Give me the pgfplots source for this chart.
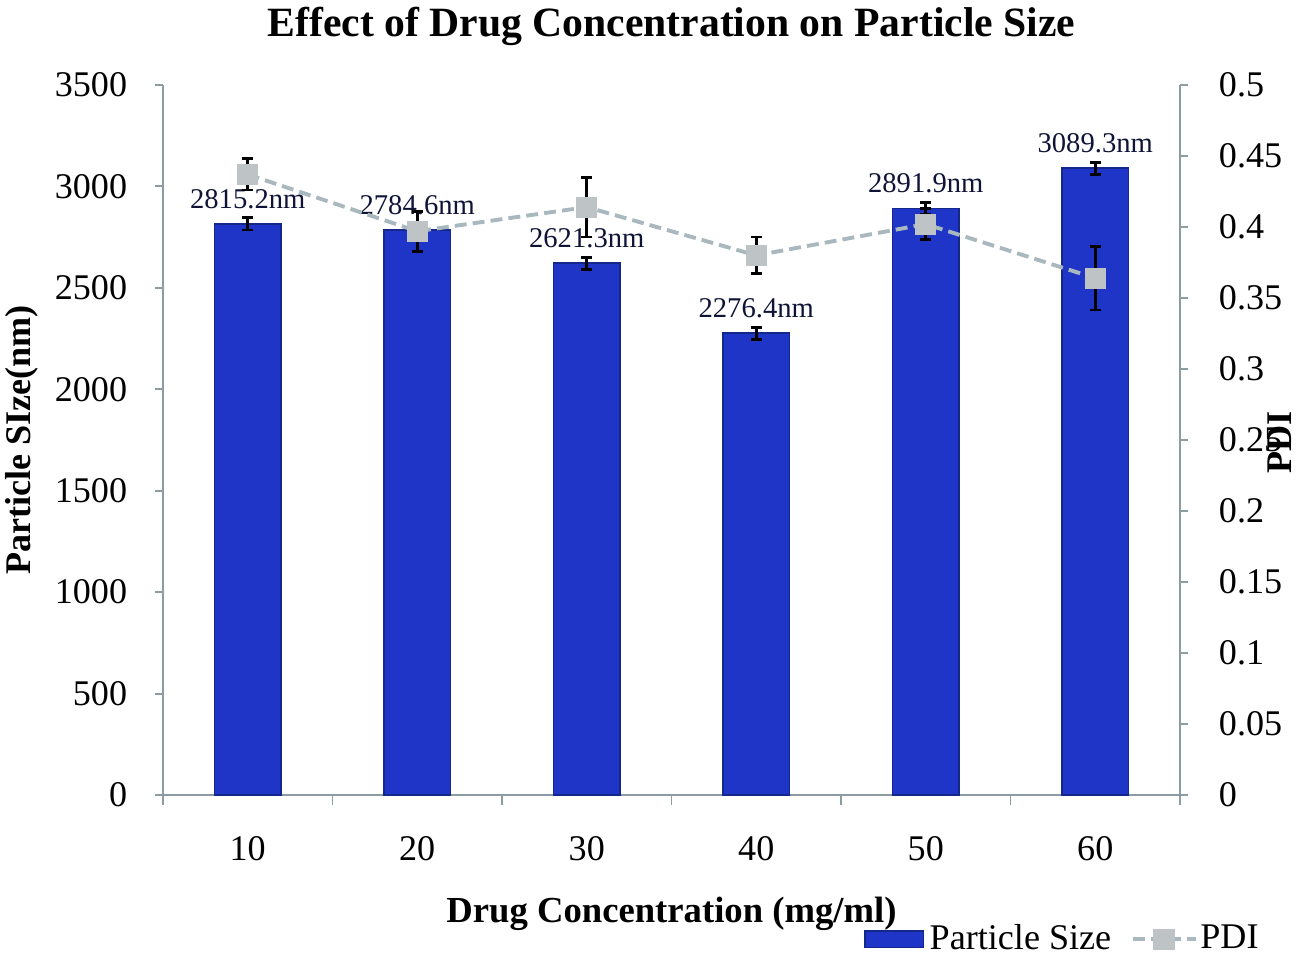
\documentclass[border=0pt]{standalone}
\usepackage{fontspec}
\setmainfont{Liberation Serif}
\usepackage{pgfplots}
\usepackage{pgfplotstable}
\pgfplotsset{compat=1.18}
\definecolor{barblue}{RGB}{30,53,200}
\definecolor{bardark}{RGB}{20,40,140}
\definecolor{axgray}{RGB}{140,156,163}
\definecolor{pdiline}{RGB}{168,184,190}
\definecolor{pdimark}{RGB}{190,196,198}
\definecolor{lblcol}{RGB}{15,20,55}

\pgfplotsset{pdilegend/.style={legend image code/.code={\draw[mark repeat=2,mark phase=2,##1] plot coordinates {(0pt,0pt) (11.3pt,0pt) (22.7pt,0pt)};}}}

\pgfplotstableread{
x size err label
1 2815.2 30 2815.2nm
2 2784.6 30 2784.6nm
3 2621.3 30 2621.3nm
4 2276.4 30 2276.4nm
5 2891.9 30 2891.9nm
6 3089.3 30 3089.3nm
}\sizedata

\pgfplotstableread{
x pdi err
1 0.437 0.011
2 0.397 0.014
3 0.414 0.021
4 0.380 0.013
5 0.402 0.011
6 0.364 0.0225
}\pdidata

\begin{document}
\begin{tikzpicture}
\path[use as bounding box] (-58.68pt,-57.96pt) rectangle (410.04pt,286.2pt);
\begin{axis}[
  at={(0,0)}, anchor=south west,
  scale only axis, width=366.12pt, height=255.6pt,
  xmin=0.5, xmax=6.5, ymin=0, ymax=3500,
  axis x line*=bottom, axis y line*=left,
  axis line style={draw=axgray, line width=0.7pt, -},
  xtick={1,2,3,4,5,6}, xticklabels={10,20,30,40,50,60},
  minor xtick={0.5,1.5,2.5,3.5,4.5,5.5,6.5},
  ytick={0,500,1000,1500,2000,2500,3000,3500},
  tick align=outside,
  major tick length=2.9pt, minor tick length=3.6pt,
  major x tick style={draw=none},
  minor x tick style={draw=axgray, line width=0.7pt},
  ytick style={draw=axgray, line width=0.7pt},
  tick label style={font=\fontsize{13}{15}\selectfont},
  /pgf/number format/assume math mode=true,
  /pgf/number format/.cd, 1000 sep={}, /pgfplots/.cd,
  xticklabel style={yshift=-8.6pt},
  yticklabel style={xshift=-6.5pt},
  title={Effect of Drug Concentration on Particle Size},
  title style={font=\fontsize{15}{18}\selectfont\bfseries, at={(axis description cs:0.5,1)}, anchor=center, yshift=15.1pt},
  xlabel={Drug Concentration (mg/ml)},
  xlabel style={font=\fontsize{13.2}{16}\selectfont\bfseries, at={(axis description cs:0.5,0)}, anchor=center, yshift=-42.8pt},
  ylabel={Particle SIze(nm)},
  ylabel style={font=\fontsize{13}{16}\selectfont\bfseries, at={(axis description cs:-0.1386,0.5)}, anchor=center, rotate=0},
  clip=false,
]
\addplot[ybar, bar width=24pt, fill=barblue, draw=bardark, line width=0.6pt,
  nodes near coords, point meta=explicit symbolic,
  every node near coord/.append style={anchor=center, yshift=9pt, font=\fontsize{10.3}{12}\selectfont, text=lblcol},
  error bars/.cd, y dir=both, y explicit,
  error bar style={black, line width=1pt},
  error mark options={rotate=90, black, mark size=2pt, line width=1pt}]
  table[x=x, y=size, y error=err, meta=label]{\sizedata};
\end{axis}
\begin{axis}[
  at={(0,0)}, anchor=south west,
  scale only axis, width=366.12pt, height=255.6pt,
  xmin=0.5, xmax=6.5, ymin=0, ymax=0.5,
  axis y line*=right, axis x line=none,
  axis line style={draw=axgray, line width=0.7pt, -},
  ytick={0,0.05,0.1,0.15,0.2,0.25,0.3,0.35,0.4,0.45,0.5},
  tick align=outside, major tick length=2.9pt,
  ytick style={draw=axgray, line width=0.7pt},
  tick label style={font=\fontsize{13}{15}\selectfont},
  /pgf/number format/assume math mode=true,
  /pgf/number format/.cd, fixed, precision=2, /pgfplots/.cd,
  yticklabel style={xshift=7.6pt},
  ylabel={PDI},
  ylabel style={font=\fontsize{13}{16}\selectfont\bfseries, at={(axis description cs:1.0983,0.496)}, anchor=center, rotate=0},
  legend style={at={(axis description cs:0.681,-0.203)}, anchor=west, draw=none, fill=none,
    font=\fontsize{13}{15}\selectfont, nodes={inner ysep=0.5pt},
    /tikz/every even column/.append style={column sep=5pt}},
  legend columns=2,
  clip=false,
]
\addlegendimage{legend image code/.code={\draw[fill=barblue,draw=bardark,line width=0.6pt] (0pt,-3pt) rectangle (20.9pt,3pt);}}
\addlegendentry{Particle Size}
\addplot[color=pdiline, line width=1.4pt, dash pattern=on 4.3pt off 2.2pt,
  mark=square*, mark size=3.1pt, mark options={solid, fill=pdimark, draw=pdimark},
  pdilegend,
  error bars/.cd, y dir=both, y explicit,
  error bar style={black, line width=1pt, solid},
  error mark options={rotate=90, black, mark size=2pt, line width=1pt, solid}]
  table[x=x, y=pdi, y error=err]{\pdidata};
\addlegendentry{\hspace*{-1pt}PDI}
\end{axis}
\end{tikzpicture}
\end{document}
